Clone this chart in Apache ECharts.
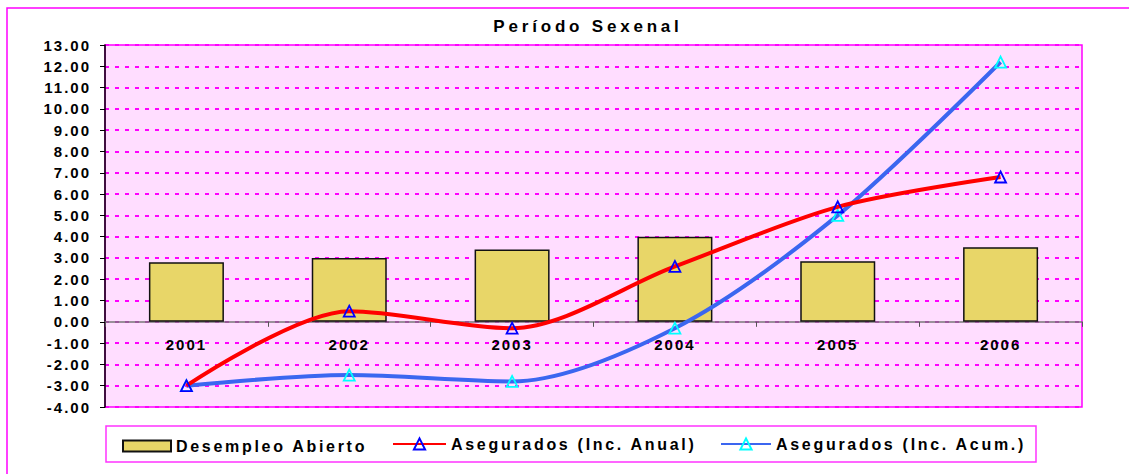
<!DOCTYPE html>
<html>
<head>
<meta charset="utf-8">
<script src="https://cdn.jsdelivr.net/npm/echarts@6/dist/echarts.min.js"></script>
<style>
html,body{margin:0;padding:0;background:#fff;}
#c{width:1129px;height:474px;}
#c svg text{letter-spacing:2px;}
#c svg text[style*="16px"]{letter-spacing:2.7px;}
#c svg text[style*="17px"]{letter-spacing:3.8px;}
</style>
</head>
<body>
<div id="c"></div>
<script>
var categories = ['2001','2002','2003','2004','2005','2006'];
var desempleo = [2.8, 3.0, 3.4, 4.0, 2.85, 3.5];
var incAnual = [-3.0, 0.5, -0.3, 2.6, 5.4, 6.8];
var incAcum = [-3.0, -2.5, -2.8, -0.3, 5.0, 12.2];
var titleText = 'Período Sexenal';
var seriesNames = ['Desempleo Abierto', 'Asegurados (Inc. Anual)', 'Asegurados (Inc. Acum.)'];
var yMin = -4, yMax = 13;

var gridTop = 45, gridBottom = 67, chartH = 474;
var plotH = chartH - gridTop - gridBottom;
var zeroOffset = -(plotH * (0 - yMin) / (yMax - yMin));

var chart = echarts.init(document.getElementById('c'), null, {renderer: 'svg'});
var font = 'Liberation Sans, Arial, sans-serif';
var legendText = {fontFamily: font, fontWeight: 'bold', fontSize: 16, color: '#000'};
chart.setOption({
  animation: false,
  backgroundColor: '#fff',
  graphic: [
    {type: 'rect', z: -10, shape: {x: 7, y: 8, width: 1140, height: 490}, style: {fill: 'none', stroke: '#FF00FF', lineWidth: 1.5}},
    {type: 'rect', z: -10, shape: {x: 106, y: 426, width: 930, height: 36}, style: {fill: '#fff', stroke: '#FF33FF', lineWidth: 1.5}},
    {type: 'text', x: 588, y: 26, style: {text: titleText, textAlign: 'center', textVerticalAlign: 'middle', font: 'bold 17px Liberation Sans, Arial, sans-serif', fill: '#000'}}
  ],
  grid: {left: 105, right: 47, top: gridTop, bottom: gridBottom, show: true, backgroundColor: '#FFDDFF', borderColor: '#FF00FF', borderWidth: 1.5},
  legend: [
    {left: 122, top: 438, padding: 0, itemWidth: 48, itemHeight: 11, itemGap: 6, textStyle: legendText, data: [{name: seriesNames[0], icon: 'rect'}]},
    {left: 392, top: 436, padding: 0, itemWidth: 53, itemHeight: 14, textStyle: legendText, data: [seriesNames[1]]},
    {left: 720, top: 436, padding: 0, itemWidth: 50, itemHeight: 14, textStyle: legendText, data: [seriesNames[2]]}
  ],
  xAxis: {
    type: 'category', data: categories, boundaryGap: true, offset: zeroOffset,
    axisLine: {onZero: false, lineStyle: {color: '#777', width: 1.5}},
    axisTick: {show: true, alignWithLabel: false, length: 5, lineStyle: {color: '#555'}},
    axisLabel: {margin: 15, fontFamily: font, fontWeight: 'bold', fontSize: 15, color: '#000'},
    splitLine: {show: false}
  },
  yAxis: {
    type: 'value', min: yMin, max: yMax, interval: 1,
    axisLine: {show: true, lineStyle: {color: '#000', width: 1.5}},
    axisTick: {show: true, length: 5, lineStyle: {color: '#000'}},
    axisLabel: {margin: 14, fontFamily: font, fontWeight: 'bold', fontSize: 15, color: '#000', formatter: function (v) { return v.toFixed(2); }},
    splitLine: {show: true, lineStyle: {color: '#FF00FF', width: 2, type: [4, 6]}}
  },
  series: [
    {name: seriesNames[0], type: 'bar', data: desempleo, barWidth: 75, z: 1,
      itemStyle: {color: '#E8D668', borderColor: '#111', borderWidth: 1.5}},
    {name: seriesNames[1], type: 'line', data: incAnual, smooth: 0.3, z: 3,
      symbol: 'triangle', symbolSize: 11,
      lineStyle: {color: '#FF0000', width: 4},
      itemStyle: {color: 'rgba(0,0,0,0)', borderColor: '#0000FF', borderWidth: 1.8}},
    {name: seriesNames[2], type: 'line', data: incAcum, smooth: 0.3, z: 2,
      symbol: 'triangle', symbolSize: 11,
      lineStyle: {color: '#3B66F0', width: 4},
      itemStyle: {color: 'rgba(0,0,0,0)', borderColor: '#00FFFF', borderWidth: 1.8}}
  ]
});
</script>
</body>
</html>
